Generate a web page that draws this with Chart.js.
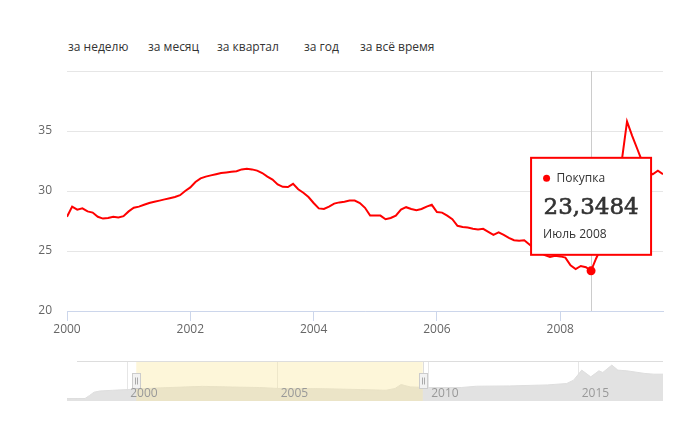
<!DOCTYPE html>
<html lang="ru">
<head>
<meta charset="utf-8">
<title>Курс доллара</title>
<script src="https://cdn.jsdelivr.net/npm/chart.js@4.4.1/dist/chart.umd.min.js"></script>
<style>
  html, body { margin: 0; padding: 0; background: #fff; }
  body { width: 678px; height: 438px; position: relative; overflow: hidden; font-family: "Open Sans", sans-serif; }
  .range { position: absolute; top: 39px; font-size: 12px; line-height: 16px; color: #333; white-space: nowrap; }
  #main { position: absolute; left: 0; top: 0; }
  #nav { position: absolute; left: 0; top: 350px; }
</style>
</head>
<body>
<span class="range" style="left:68px">за неделю</span>
<span class="range" style="left:148px">за месяц</span>
<span class="range" style="left:217px">за квартал</span>
<span class="range" style="left:304px">за год</span>
<span class="range" style="left:360px">за всё время</span>
<canvas id="main" width="678" height="340"></canvas>
<canvas id="nav" width="678" height="70"></canvas>
<script>
'use strict';

// monthly rate, starting January 2000
var startYear = 2000;
var monthNames = ['Январь', 'Февраль', 'Март', 'Апрель', 'Май', 'Июнь',
  'Июль', 'Август', 'Сентябрь', 'Октябрь', 'Ноябрь', 'Декабрь'];
var rates = [
  27.85, 28.7, 28.45, 28.55, 28.3, 28.2, 27.85, 27.7, 27.75, 27.85, 27.8, 27.9,
  28.3, 28.6, 28.7, 28.85, 29.0, 29.1, 29.2, 29.3, 29.4, 29.5, 29.65, 30.0,
  30.3, 30.75, 31.05, 31.2, 31.3, 31.4, 31.5, 31.55, 31.6, 31.65, 31.8, 31.85,
  31.8, 31.7, 31.5, 31.2, 30.95, 30.55, 30.35, 30.33, 30.6, 30.15, 29.85, 29.5,
  29.0, 28.55, 28.5, 28.7, 28.95, 29.05, 29.1, 29.2, 29.2, 29.0, 28.6, 27.95,
  27.95, 27.95, 27.65, 27.75, 27.95, 28.45, 28.65, 28.5, 28.4, 28.5, 28.7, 28.85,
  28.25, 28.2, 27.95, 27.65, 27.1, 27.0, 26.95, 26.85, 26.8, 26.85, 26.6, 26.35,
  26.55, 26.35, 26.1, 25.9, 25.85, 25.9, 25.55, 25.2, 24.9, 24.65, 24.5, 24.6,
  24.55, 24.45, 23.8, 23.5, 23.75, 23.65, 23.3484, 24.4, 25.3, 26.4, 27.6, 29.3,
  32.6, 35.8, 34.6, 33.5, 32.4, 31.7, 31.4, 31.7, 31.4
];
var seriesName = 'Покупка';
var activeIndex = 102;

// navigator: whole history
var navYears = [1998.0, 1998.6, 1998.75, 1998.9, 1999.1, 1999.5, 2000.0, 2001.0, 2002.5, 2003.5,
  2004.4, 2005.0, 2006.5, 2007.75, 2008.6, 2008.9, 2009.1, 2009.4, 2009.97, 2011.1,
  2011.6, 2012.7, 2013.96, 2014.6, 2014.83, 2015.1, 2015.4, 2015.67, 2015.8, 2016.1,
  2016.3, 2016.6, 2017.2, 2017.5, 2017.8];
var navRates = [5.2, 5.4, 12, 19, 21.6, 23, 24.6, 28, 31.5, 30,
  29, 27, 26.5, 24.6, 23.1, 27, 35.5, 30.3, 29, 29,
  31.8, 32.4, 34.6, 37.6, 44.8, 66.4, 51.9, 64.9, 61.4, 77.2,
  66.4, 64.9, 59.2, 57.7, 57.7];
var navSelection = [2000.3, 2009.82];

function monthX(i) { return startYear + i / 12; }
function monthLabel(i) { return monthNames[i % 12] + ' ' + (startYear + Math.floor(i / 12)); }

var hoverPlugin = {
  id: 'hover',
  beforeDatasetsDraw: function (chart) {
    var pt = chart.getDatasetMeta(0).data[activeIndex];
    var ctx = chart.ctx, area = chart.chartArea;
    var x = Math.round(pt.x) + 0.5;
    ctx.save();
    ctx.strokeStyle = '#cccccc';
    ctx.lineWidth = 1;
    ctx.beginPath();
    ctx.moveTo(x, area.top);
    ctx.lineTo(x, area.bottom);
    ctx.stroke();
    ctx.restore();
  },
  afterDraw: function (chart) {
    var pt = chart.getDatasetMeta(0).data[activeIndex];
    var ctx = chart.ctx;
    var w = 120, h = 97;
    var left = pt.x - w / 2, top = pt.y - 16 - h;
    var value = rates[activeIndex].toFixed(4).replace('.', ',');
    ctx.save();
    ctx.fillStyle = '#ffffff';
    ctx.fillRect(left, top, w, h);
    ctx.strokeStyle = '#ff0000';
    ctx.lineWidth = 2;
    ctx.strokeRect(left, top, w, h);
    ctx.fillStyle = '#ff0000';
    ctx.beginPath();
    ctx.arc(left + 15.5, top + 20.5, 3.5, 0, Math.PI * 2);
    ctx.fill();
    ctx.fillStyle = '#333333';
    ctx.textBaseline = 'middle';
    ctx.font = '12px "Open Sans"';
    ctx.fillText(seriesName, left + 25.5, top + 20.5);
    ctx.fillText(monthLabel(activeIndex), left + 12, top + 76.5);
    // big value, slightly heavier than plain DejaVu Serif
    ctx.textBaseline = 'alphabetic';
    ctx.font = '23px "DejaVu Serif"';
    ctx.strokeStyle = '#333333';
    ctx.lineWidth = 0.6;
    ctx.fillText(value, left + 12.5, top + 56.5);
    ctx.strokeText(value, left + 12.5, top + 56.5);
    ctx.restore();
  }
};

var mainChart = new Chart(document.getElementById('main'), {
  type: 'line',
  data: {
    datasets: [{
      label: seriesName,
      data: rates.map(function (v, i) { return { x: monthX(i), y: v }; }),
      borderColor: '#ff0000',
      borderWidth: 2,
      pointRadius: function (c) { return c.dataIndex === activeIndex ? 4.5 : 0; },
      pointBackgroundColor: '#ff0000',
      pointBorderWidth: 0,
      tension: 0,
      fill: false
    }]
  },
  options: {
    responsive: false,
    animation: false,
    devicePixelRatio: 1,
    events: [],
    layout: { padding: { top: 71, right: 15, bottom: 0, left: 0 } },
    plugins: { legend: { display: false }, tooltip: { enabled: false } },
    scales: {
      x: {
        type: 'linear',
        min: startYear,
        max: monthX(rates.length - 1),
        afterFit: function (s) { s.height = 29; },
        grid: { display: true, drawOnChartArea: false, drawTicks: true, tickLength: 10, color: '#ccd6eb' },
        border: { display: true, color: '#ccd6eb', width: 1 },
        ticks: {
          stepSize: 2, includeBounds: false, padding: 1, maxRotation: 0, autoSkip: false,
          color: '#666666', font: { family: 'Open Sans', size: 12 },
          callback: function (v) { return String(v); }
        }
      },
      y: {
        min: 20,
        max: 40,
        afterFit: function (s) { s.width = 67; },
        grid: { color: '#e6e6e6', drawTicks: false },
        border: { display: false },
        ticks: {
          stepSize: 5, padding: 15,
          color: '#666666', font: { family: 'Open Sans', size: 12 },
          callback: function (v) { return v === 40 ? '' : String(v); }
        }
      }
    }
  },
  plugins: [hoverPlugin]
});

var navPlugin = {
  id: 'navmask',
  afterDatasetsDraw: function (chart) {
    var ctx = chart.ctx, area = chart.chartArea, xs = chart.scales.x;
    var x0 = xs.getPixelForValue(navSelection[0]);
    var x1 = xs.getPixelForValue(navSelection[1]);
    ctx.save();
    ctx.fillStyle = 'rgba(250,232,156,0.39)';
    ctx.fillRect(x0, area.top, x1 - x0, area.bottom - area.top);
    ctx.strokeStyle = '#dddddd';
    ctx.lineWidth = 1;
    ctx.beginPath();
    ctx.moveTo(area.left + 10, area.top + 0.5);
    ctx.lineTo(area.right, area.top + 0.5);
    ctx.moveTo(Math.round(x1) + 0.5, area.top);
    ctx.lineTo(Math.round(x1) + 0.5, area.top + 12);
    ctx.stroke();
    [x0, x1].forEach(function (hx) {
      var l = Math.round(hx - 4) + 0.5, t = area.top + 12.5;
      ctx.fillStyle = '#f2f2f2';
      ctx.fillRect(l, t, 8, 15);
      ctx.strokeStyle = '#cccccc';
      ctx.strokeRect(l, t, 8, 15);
      ctx.strokeStyle = '#aaaaaa';
      ctx.beginPath();
      ctx.moveTo(l + 3, t + 4); ctx.lineTo(l + 3, t + 11);
      ctx.moveTo(l + 5, t + 4); ctx.lineTo(l + 5, t + 11);
      ctx.stroke();
    });
    // year labels sit inside the navigator, just right of their grid line
    ctx.fillStyle = '#999999';
    ctx.font = '12px "Open Sans"';
    ctx.textBaseline = 'middle';
    ctx.textAlign = 'left';
    xs.ticks.forEach(function (t) {
      ctx.fillText(String(t.value), xs.getPixelForValue(t.value) + 3, area.bottom - 7.5);
    });
    ctx.restore();
  }
};

var navChart = new Chart(document.getElementById('nav'), {
  type: 'line',
  data: {
    datasets: [{
      data: navRates.map(function (v, i) { return { x: navYears[i], y: v }; }),
      backgroundColor: '#e2e2e2',
      borderColor: '#dedede',
      borderWidth: 1,
      pointRadius: 0,
      tension: 0,
      fill: 'origin'
    }]
  },
  options: {
    responsive: false,
    animation: false,
    devicePixelRatio: 1,
    events: [],
    layout: { padding: { top: 11, right: 15, bottom: 19, left: 67 } },
    plugins: { legend: { display: false }, tooltip: { enabled: false } },
    scales: {
      x: {
        type: 'linear',
        min: navYears[0],
        max: navYears[navYears.length - 1],
        afterFit: function (s) { s.height = 0; },
        grid: { color: '#e6e6e6', drawTicks: false },
        border: { display: false },
        ticks: { stepSize: 5, includeBounds: false, display: false }
      },
      y: { display: false, min: 0, max: 86 }
    }
  },
  plugins: [navPlugin]
});
</script>
</body>
</html>
